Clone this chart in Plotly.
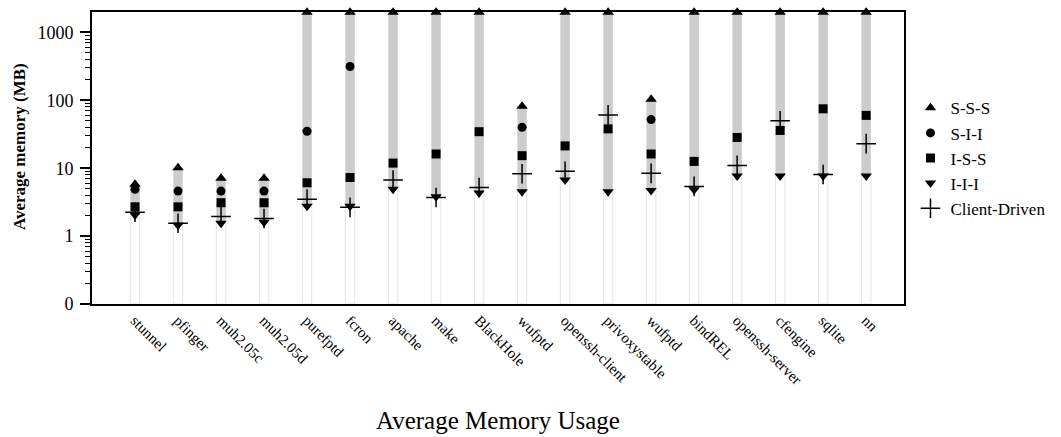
import plotly.graph_objects as go

# Benchmarks (two separate wufptd runs)
programs = ["stunnel", "pfinger", "muh2.05c", "muh2.05d", "purefptd", "fcron",
            "apache", "make", "BlackHole", "wufptd", "openssh-client",
            "privoxystable", "wufptd", "bindREL", "openssh-server", "cfengine",
            "sqlite", "nn"]

# Average memory (MB) per configuration; 1990 marks the plot ceiling
sss = [5.8, 10.2, 7.1, 7.1, 1990, 1990, 1990, 1990, 1990, 82, 1990, 1990,
       104, 1990, 1990, 1990, 1990, 1990]
sii = [4.9, 4.6, 4.6, 4.6, 35, 315, None, None, None, 40, None, None,
       52, None, None, None, None, None]
iss = [2.7, 2.7, 3.1, 3.1, 6.1, 7.3, 11.9, 16.2, 34.5, 15.3, 21.3, 38,
       16.2, 12.6, 28.4, 36, 75, 60]
iii = [2.05, 1.45, 1.55, 1.6, 2.75, 2.75, 4.9, 3.8, 4.3, 4.5, 6.7, 4.5,
       4.7, 4.8, 7.7, 7.7, 7.7, 7.7]
client = [2.25, 1.55, 1.95, 1.82, 3.5, 2.65, 6.7, 3.7, 5.2, 8.3, 9.0, 61,
          8.4, 5.4, 11.0, 50, 8.1, 23]

AXIS_FLOOR = 0.1
x = list(range(len(programs)))
font = "Liberation Serif"

fig = go.Figure()

# thin outline from the floor up to the lowest value
fig.add_trace(go.Bar(
    x=x, y=[v - AXIS_FLOOR for v in iii], base=[AXIS_FLOOR] * len(x),
    width=0.22, marker=dict(color="rgba(255,255,255,0)",
                            line=dict(color="#e4e4e4", width=1)),
    showlegend=False, hoverinfo="skip"))

# grey range bar between I-I-I and S-S-S
fig.add_trace(go.Bar(
    x=x, y=[hi - lo for hi, lo in zip(sss, iii)], base=iii,
    width=0.22, marker=dict(color="#cccccc", line=dict(width=0)),
    showlegend=False, hoverinfo="skip"))

series = [
    ("S-S-S", sss, "triangle-up", 10),
    ("S-I-I", sii, "circle", 9),
    ("I-S-S", iss, "square", 9),
    ("I-I-I", iii, "triangle-down", 10),
]
for name, vals, sym, size in series:
    fig.add_trace(go.Scatter(
        x=x, y=vals, mode="markers", name=name, cliponaxis=False,
        marker=dict(symbol=sym, size=size, color="black",
                    line=dict(width=0))))

fig.add_trace(go.Scatter(
    x=x, y=client, mode="markers", name="Client-Driven", cliponaxis=False,
    marker=dict(symbol="cross-thin-open", size=14, color="black",
                line=dict(width=1.5, color="black"))))

fig.update_layout(
    width=1061, height=437,
    margin=dict(l=92, r=157, t=10, b=133),
    paper_bgcolor="white", plot_bgcolor="white",
    barmode="overlay",
    font=dict(family=font, color="black"),
    showlegend=True,
    legend=dict(x=1.008, y=0.732, xanchor="left", yanchor="top",
                font=dict(family=font, size=17), bgcolor="rgba(0,0,0,0)",
                itemwidth=30, tracegroupgap=0),
    annotations=[
        dict(text="Average Memory Usage", xref="paper", yref="paper",
             x=0.5, y=-0.40, xanchor="center", yanchor="middle",
             showarrow=False, font=dict(family=font, size=25)),
        dict(text="<b>Average memory (MB)</b>", xref="paper", yref="paper",
             x=-0.089, y=0.54, xanchor="center", yanchor="middle",
             textangle=-90, showarrow=False, font=dict(family=font, size=17)),
    ],
)

fig.update_xaxes(
    range=[-1, 17.88], tickvals=x, ticktext=programs, tickangle=45,
    tickfont=dict(family=font, size=15), ticks="", showgrid=False,
    zeroline=False, showline=True, linecolor="black", linewidth=2,
    mirror=True)

fig.update_yaxes(
    type="log", range=[-1, 3.301],
    tickvals=[0.1, 1, 10, 100, 1000], ticktext=["0", "1", "10", "100", "1000"],
    tickfont=dict(family=font, size=18), ticks="outside", ticklen=10,
    tickwidth=1.5, tickcolor="black", ticklabelstandoff=3,
    minor=dict(ticks="outside", ticklen=5, tickcolor="black", tickwidth=1,
               tickvals=[m * 10 ** e for e in range(-1, 3) for m in range(2, 10)]),
    showgrid=False, zeroline=False, showline=True, linecolor="black",
    linewidth=2, mirror=True)

fig.write_html("out.html")
